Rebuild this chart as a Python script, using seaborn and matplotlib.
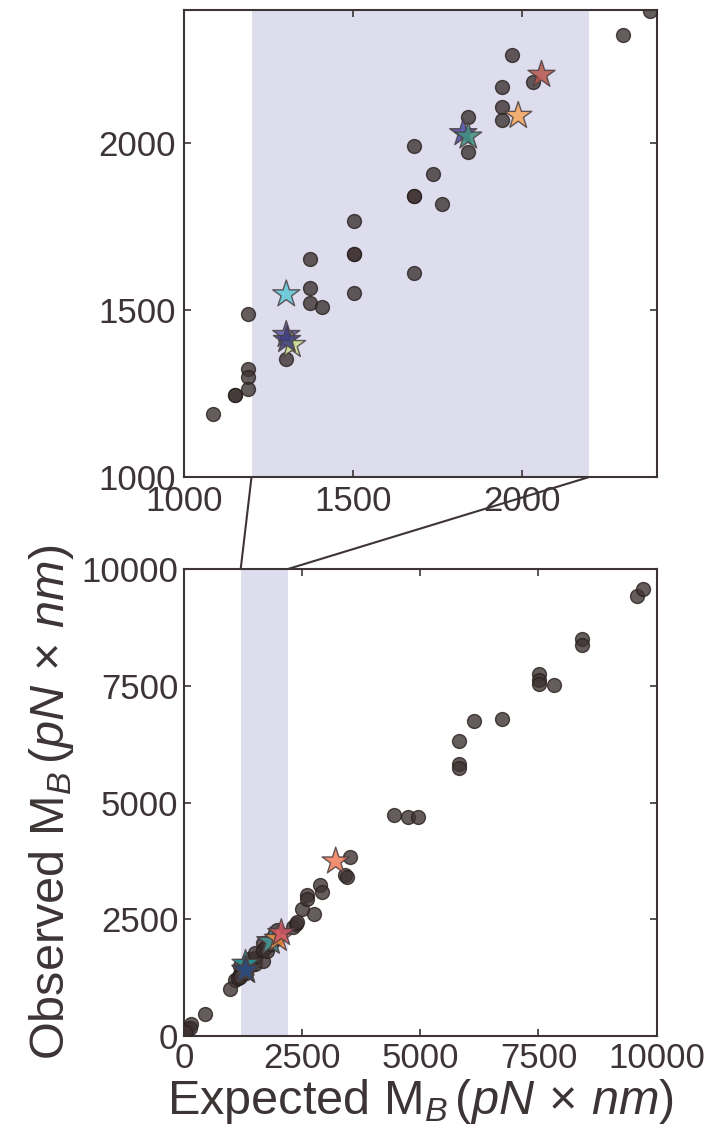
import matplotlib
matplotlib.use("Agg")
import matplotlib.pyplot as plt
import seaborn as sns
import pandas as pd
from matplotlib.patches import ConnectionPatch

# ---------------- data ----------------
circle_x = [1085, 1150, 1150, 1190, 1190, 1190, 1190, 1303, 1374, 1374, 1374, 1408,
            1504, 1504, 1504, 1504, 1682, 1682, 1682, 1682, 1737, 1765, 1842, 1842,
            1941, 1941, 1941, 1972, 2034, 2300, 2380, 2400,
            2490, 2750, 2595, 2595, 2877, 2913, 3512, 3406, 3442,
            4449, 4746, 4957, 5825, 5825, 5825, 6135, 6721,
            7517, 7517, 7517, 7828, 8413, 8413, 9577, 9717,
            973, 444, 141, 56, 127, 20]
circle_y = [1190, 1245, 1245, 1490, 1325, 1300, 1265, 1354, 1654, 1566, 1521, 1511,
            1669, 1669, 1551, 1768, 1611, 1991, 1841, 1841, 1909, 1818, 2079, 1973,
            2169, 2108, 2069, 2266, 2183, 2326, 2396, 2450,
            2725, 2618, 3026, 2933, 3240, 3083, 3835, 3455, 3406,
            4727, 4684, 4684, 6316, 5815, 5744, 6745, 6781,
            7747, 7625, 7532, 7517, 8498, 8369, 9425, 9570,
            1002, 472, 257, 144, 170, 92]

star_x = [1303, 1303, 1320, 1305, 1827, 1842, 1990, 2059, 3210]
star_y = [1548, 1426, 1396, 1411, 2031, 2021, 2083, 2206, 3740]
star_colors_top = ["#5ec6d6", "#5a58a8", "#c8de8e", "#3c3c7c", "#4a4aa8",
                   "#3f9080", "#f7a65c", "#b8554c", "#f07a58"]
star_colors_bottom = ["#2a9aa0", "#2f5a92", "#3a4a80", "#2b4a7a", "#3a4a8a",
                      "#4a9a90", "#f08a40", "#d45a68", "#f07a58"]

zoom_span = [1200, 2200]
top_lim = [1000, 2400]
bottom_lim = [0, 10000]
top_ticks = [1000, 1500, 2000]
bottom_ticks = [0, 2500, 5000, 7500, 10000]

# ---------------- style ----------------
sns.set_style("ticks")
fam = ["Liberation Sans", "DejaVu Sans"]
plt.rcParams["font.family"] = fam
plt.rcParams["mathtext.fontset"] = "custom"
plt.rcParams["mathtext.rm"] = "Liberation Sans"
plt.rcParams["mathtext.it"] = "Liberation Sans:italic"
plt.rcParams["mathtext.sf"] = "Liberation Sans"

ink = "#3d3535"
shade = "#dddded"

circles = pd.DataFrame({"x": circle_x, "y": circle_y})
stars = pd.DataFrame({"x": star_x, "y": star_y, "id": [str(i) for i in range(len(star_x))]})

fig = plt.figure(figsize=(7.06, 11.38), dpi=100)
ax_top = fig.add_axes([0.2606, 0.5808, 0.6695, 0.4104])
ax_bot = fig.add_axes([0.2606, 0.0896, 0.6695, 0.4104])


def draw(ax, colors):
    ax.axvspan(zoom_span[0], zoom_span[1], color=shade, lw=0, zorder=0)
    sns.scatterplot(data=circles, x="x", y="y", ax=ax, s=100, color="#3f3333",
                    alpha=0.8, edgecolor="#2a2020", linewidth=1.0, zorder=3, legend=False)
    sns.scatterplot(data=stars, x="x", y="y", hue="id", palette=colors, ax=ax,
                    marker="*", s=420, alpha=0.85, edgecolor="#4a3f3f", linewidth=1.0,
                    zorder=4, legend=False)
    ax.set_xlabel("")
    ax.set_ylabel("")
    for sp in ax.spines.values():
        sp.set_visible(True)
        sp.set_color(ink)
        sp.set_linewidth(1.5)
    ax.tick_params(direction="in", top=True, right=True, length=5, width=1.2,
                   color=ink, labelcolor=ink, labelsize=25, pad=4)


draw(ax_top, star_colors_top)
ax_top.set_xlim(*top_lim)
ax_top.set_ylim(*top_lim)
ax_top.set_xticks(top_ticks)
ax_top.set_yticks(top_ticks)
ax_top.set_xticklabels([str(t) for t in top_ticks])
ax_top.set_yticklabels([str(t) for t in top_ticks])
ax_top.tick_params(axis="x", pad=6)
ax_top.tick_params(axis="y", pad=6)

draw(ax_bot, star_colors_bottom)
ax_bot.set_xlim(*bottom_lim)
ax_bot.set_ylim(*bottom_lim)
ax_bot.set_xticks(bottom_ticks)
ax_bot.set_yticks(bottom_ticks)
ax_bot.set_xticklabels([str(t) for t in bottom_ticks])
ax_bot.set_yticklabels([str(t) for t in bottom_ticks])

ax_bot.set_xlabel(r"Expected M$_{B}\,(pN\,\times\,nm)$", fontsize=35, color=ink, labelpad=2)
ax_bot.set_ylabel(r"Observed M$_{B}\,(pN\,\times\,nm)$", fontsize=35, color=ink, labelpad=4)

for xv in zoom_span:
    con = ConnectionPatch(xyA=(xv, top_lim[0]), coordsA=ax_top.transData,
                          xyB=(xv, bottom_lim[1]), coordsB=ax_bot.transData,
                          color=ink, lw=1.5, zorder=1)
    fig.add_artist(con)

fig.savefig("out.png", dpi=100)
